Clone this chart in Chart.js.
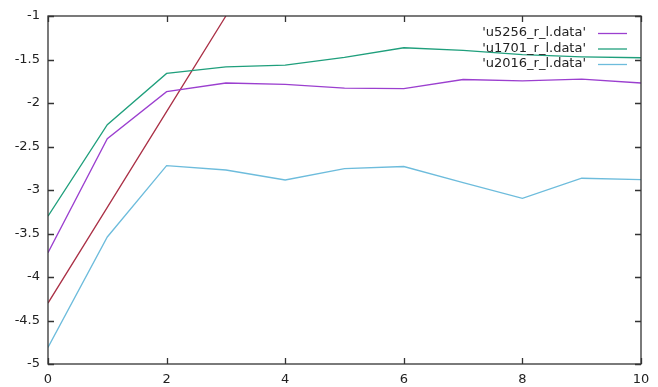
<!DOCTYPE html>
<html>
<head>
<meta charset="utf-8">
<script src="https://cdn.jsdelivr.net/npm/chart.js@4"></script>
<style>
  html, body { margin: 0; padding: 0; background: #fff; }
  #wrap { width: 658px; height: 387px; }
</style>
</head>
<body>
<div id="wrap"><canvas id="myChart" width="658" height="387"></canvas></div>
<script>
// x positions (iterations)
var steps = [0, 1, 2, 3, 4, 5, 6, 7, 8, 9, 10];
var u5256 = [-3.72, -2.41, -1.87, -1.77, -1.785, -1.83, -1.835, -1.73, -1.745, -1.725, -1.77];
var u1701 = [-3.30, -2.25, -1.66, -1.585, -1.565, -1.475, -1.365, -1.395, -1.445, -1.47, -1.48];
var u2016 = [-4.81, -3.54, -2.72, -2.77, -2.885, -2.755, -2.73, -2.915, -3.095, -2.865, -2.88];
// the unlabelled straight line
var fitSteps = [0, 1, 2, 3];
var fitLine = [-4.3, -3.2, -2.1, -1.0];

var xTicks = [0, 2, 4, 6, 8, 10];
var yTicks = [-5, -4.5, -4, -3.5, -3, -2.5, -2, -1.5, -1];

function pts(xs, ys) {
    return xs.map(function (x, i) { return { x: x, y: ys[i] }; });
}

var font = { family: "'DejaVu Sans', Verdana, sans-serif", size: 13 };

// gnuplot style box with inward ticks on all four sides, plus the key
var gnuplotFrame = {
    id: 'gnuplotFrame',
    afterDraw: function (chart) {
        var c = chart.ctx, a = chart.chartArea;
        var xs = chart.scales.x, ys = chart.scales.y;
        c.save();
        c.strokeStyle = '#333';
        c.lineWidth = 1.3;
        c.strokeRect(a.left, a.top, a.right - a.left, a.bottom - a.top);
        c.beginPath();
        xTicks.forEach(function (v) {
            var px = Math.round(xs.getPixelForValue(v)) + 0.5;
            c.moveTo(px, a.bottom); c.lineTo(px, a.bottom - 6);
            c.moveTo(px, a.top); c.lineTo(px, a.top + 6);
        });
        yTicks.forEach(function (v) {
            var py = Math.round(ys.getPixelForValue(v)) + 0.5;
            c.moveTo(a.left, py); c.lineTo(a.left + 6, py);
            c.moveTo(a.right, py); c.lineTo(a.right - 6, py);
        });
        c.stroke();

        // key, top right
        c.font = font.size + 'px ' + font.family;
        c.textAlign = 'right';
        c.textBaseline = 'middle';
        var row = 0;
        chart.data.datasets.forEach(function (ds) {
            if (!ds.label) return;
            var y = a.top + 17 + row * 15.5;
            c.fillStyle = '#222';
            c.fillText(ds.label, a.right - 55, y);
            c.strokeStyle = ds.borderColor;
            c.lineWidth = 1.3;
            c.beginPath();
            c.moveTo(a.right - 43, y + 0.5);
            c.lineTo(a.right - 14, y + 0.5);
            c.stroke();
            row++;
        });
        c.restore();
    }
};

var ctx = document.getElementById('myChart').getContext('2d');

var myChart = new Chart(ctx, {
    type: 'line',
    data: {
        datasets: [{
            label: "'u5256_r_l.data'",
            data: pts(steps, u5256),
            borderColor: '#9b3fcf'
        }, {
            label: "'u1701_r_l.data'",
            data: pts(steps, u1701),
            borderColor: '#1f9f7c'
        }, {
            label: "'u2016_r_l.data'",
            data: pts(steps, u2016),
            borderColor: '#6dbcdc'
        }, {
            label: '',
            data: pts(fitSteps, fitLine),
            borderColor: '#aa3046'
        }]
    },
    options: {
        responsive: false,
        animation: false,
        layout: { padding: { left: 0, right: 17, top: 16, bottom: 0 } },
        elements: {
            line: { borderWidth: 1.3, tension: 0, fill: false },
            point: { radius: 0 }
        },
        plugins: {
            legend: { display: false },
            tooltip: { enabled: false }
        },
        scales: {
            x: {
                type: 'linear',
                min: 0,
                max: 10,
                afterBuildTicks: function (s) { s.ticks = xTicks.map(function (v) { return { value: v }; }); },
                afterFit: function (s) { s.height = 23; },
                grid: { display: false, drawTicks: false },
                border: { display: false },
                ticks: { color: '#222', font: font, padding: 8, maxRotation: 0,
                         callback: function (v) { return String(v); } }
            },
            y: {
                type: 'linear',
                min: -5,
                max: -1,
                afterBuildTicks: function (s) { s.ticks = yTicks.map(function (v) { return { value: v }; }); },
                afterFit: function (s) { s.width = 48; },
                grid: { display: false, drawTicks: false },
                border: { display: false },
                ticks: { color: '#222', font: font, padding: 8,
                         callback: function (v) { return String(v); } }
            }
        }
    },
    plugins: [gnuplotFrame]
});
</script>
</body>
</html>
